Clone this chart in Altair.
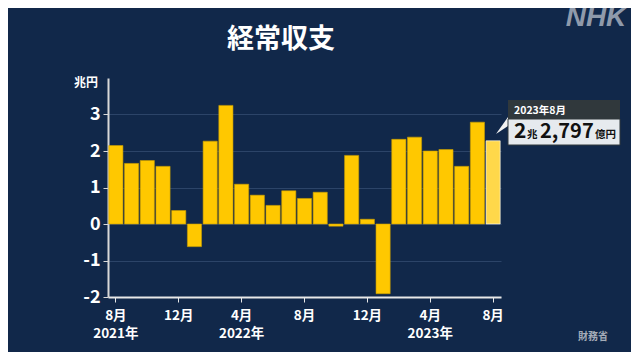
import altair as alt
import pandas as pd

months = ["2021-08", "2021-09", "2021-10", "2021-11", "2021-12",
          "2022-01", "2022-02", "2022-03", "2022-04", "2022-05", "2022-06",
          "2022-07", "2022-08", "2022-09", "2022-10", "2022-11", "2022-12",
          "2023-01", "2023-02", "2023-03", "2023-04", "2023-05", "2023-06",
          "2023-07", "2023-08"]
values = [2.15, 1.66, 1.74, 1.58, 0.37,
          -0.62, 2.27, 3.25, 1.09, 0.79, 0.51,
          0.91, 0.70, 0.87, -0.06, 1.88, 0.13,
          -1.91, 2.32, 2.38, 2.00, 2.04, 1.58,
          2.79, 2.2797]
tick_months = ["2021-08", "2021-12", "2022-04", "2022-08", "2022-12", "2023-04", "2023-08"]
tick_labels = [["8月", "2021年"], ["12月"], ["4月", "2022年"], ["8月"], ["12月"], ["4月", "2023年"], ["8月"]]
y_ticks = [-2, -1, 0, 1, 2, 3]

FONT = "Noto Sans CJK JP"
BG = "#11284a"

df = pd.DataFrame({"month": months, "value": values})
df["hl"] = ["last" if i == len(months) - 1 else "other" for i in range(len(months))]

# label expression built from tick lists
expr = "''"
for m, lab in reversed(list(zip(tick_months, tick_labels))):
    arr = "[" + ",".join("'" + s + "'" for s in lab) + "]"
    expr = f"datum.value == '{m}' ? {arr} : ({expr})"

bars = alt.Chart(df).mark_bar(strokeWidth=0.6).encode(
    x=alt.X("month:O", sort=None,
            scale=alt.Scale(paddingInner=0.1, paddingOuter=0.05),
            axis=alt.Axis(values=tick_months, labelExpr=expr, labelAngle=0, title=None,
                          domainColor="#e8e8e8", tickColor="#e8e8e8", tickSize=5,
                          domainWidth=2, labelColor="white", labelFont=FONT,
                          labelFontWeight="bold", labelFontSize=13.5, labelPadding=6,
                          labelLineHeight=18, grid=False)),
    y=alt.Y("value:Q", scale=alt.Scale(domain=[-2, 4], nice=False, zero=False),
            axis=alt.Axis(values=y_ticks, title=None, labelColor="white",
                          labelExpr="replace(datum.label, '−', '-')",
                          labelFont=FONT, labelFontWeight="bold", labelFontSize=18,
                          labelPadding=3, domainColor="#d8d8d8", domainWidth=2,
                          tickColor="#d8d8d8", tickSize=5, gridColor="#2c4468",
                          gridWidth=1)),
    fill=alt.Fill("hl:N", scale=alt.Scale(domain=["other", "last"], range=["#ffc800", "#ffd84a"]), legend=None),
    stroke=alt.Stroke("hl:N", scale=alt.Scale(domain=["other", "last"], range=["#c99d00", "#ffffff"]), legend=None),
)

one = pd.DataFrame({"a": [0]})

def text(t, x, y, size, color="white", align="left", baseline="alphabetic", weight="bold", font=FONT, style="normal"):
    return alt.Chart(pd.DataFrame({"t": [t]})).mark_text(
        align=align, baseline=baseline, fontSize=size, color=color, fontWeight=weight, font=font,
        fontStyle=style
    ).encode(x=alt.value(x), y=alt.value(y), text="t:N")

title = text("経常収支", 173, -38, 27, align="center", baseline="middle")
unit = text("兆円", -10, 5, 12, align="right", baseline="middle")
nhk = text("NHK", 488, -60, 28, color="#8f9aab", align="center", baseline="middle",
           weight=900, font="Liberation Sans", style="italic")
src = text("財務省", 485, 259, 10, color="#a4acb8", align="center", baseline="middle")

dark_box = alt.Chart(one).mark_rect(color="#30383c").encode(
    x=alt.value(400), x2=alt.value(512), y=alt.value(22), y2=alt.value(41))
light_box = alt.Chart(one).mark_rect(color="#e6eaee", stroke="#30383c", strokeWidth=1).encode(
    x=alt.value(400), x2=alt.value(512), y=alt.value(41), y2=alt.value(67))
pointer = alt.Chart(one).mark_point(
    shape="M-0.71,1 L0.71,-1 L0.71,0.06 Z", filled=True, color="#f2f2f2", opacity=1, size=289
).encode(x=alt.value(394), y=alt.value(47.5))

last_m = months[-1]
last_v = values[-1]
cho = int(last_v)
oku = int(round((last_v - cho) * 10000))
date_lbl = f"{int(last_m[:4])}年{int(last_m[5:])}月"
c1 = text(date_lbl, 406, 36, 10.5)
c2 = text(str(cho), 406, 60, 21, color="#111111")
c3 = text("兆", 419, 60, 10.5, color="#111111")
c4 = text(f"{oku:,}", 432, 60, 20, color="#111111")
c5 = text("億円", 487, 60, 10.5, color="#111111")

chart = alt.layer(bars, title, unit, nhk, src, pointer, dark_box, light_box, c1, c2, c3, c4, c5).properties(
    width=393, height=219,
    autosize=alt.AutoSizeParams(type="none"),
    padding={"left": 100, "top": 70, "right": 130, "bottom": 55},
    background=BG,
).configure_view(stroke=None)

chart.save("out.html", embed_options={"renderer": "svg", "actions": False})
